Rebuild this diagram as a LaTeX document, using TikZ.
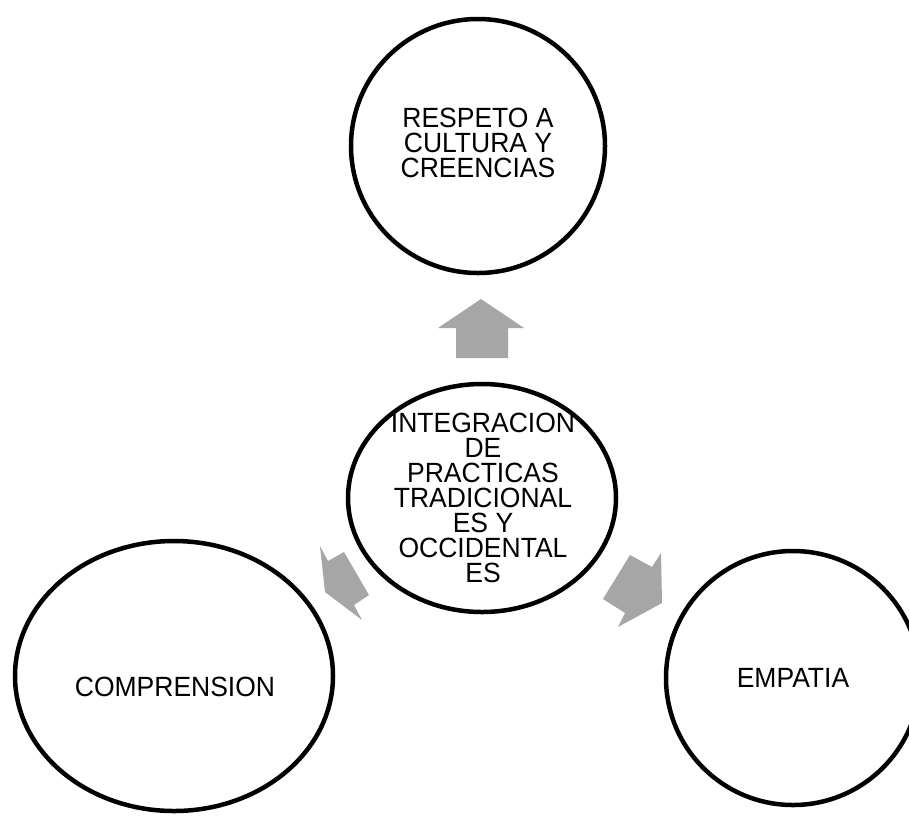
\documentclass[tikz,border=0pt]{standalone}
\usepackage{fontspec}
\setmainfont{Liberation Sans}
\usetikzlibrary{shapes.geometric}
\definecolor{arrowgray}{RGB}{166,166,166}
\newcommand{\tallline}[1]{\scalebox{1}[1.05]{#1}}
\begin{document}
\begin{tikzpicture}[x=1pt,y=-1pt,
  ring/.style={draw=black, line width=4.5pt, ellipse, inner sep=0pt},
  lbl/.style={font=\fontsize{26.5}{25.1}\selectfont, align=center, inner sep=0pt},
  blockarrow/.style={fill=arrowgray, draw=none}]
\fill[white] (0,0) rectangle (909,815);
\useasboundingbox (0,0) rectangle (909,815);
% circles / ellipses
\node[ring, minimum width=254pt, minimum height=254pt] (top) at (478,146) {};
\node[ring, minimum width=268pt, minimum height=228pt] (center) at (482,498) {};
\node[ring, minimum width=318pt, minimum height=270pt] (left) at (174,676) {};
\node[ring, minimum width=254pt, minimum height=254pt] (right) at (793,678) {};
% labels
\node[lbl] (toptext) at (478,143) {\tallline{RESPETO A}\\\tallline{CULTURA Y}\\\tallline{CREENCIAS}};
\node[lbl] (ctext) at (483,498) {\tallline{INTEGRACION}\\\tallline{DE}\\\tallline{PRACTICAS}\\\tallline{TRADICIONAL}\\\tallline{ES Y}\\\tallline{OCCIDENTAL}\\\tallline{ES}};
\node[lbl] (ltext) at (175,687) {\tallline{COMPRENSION}};
\node[lbl] (rtext) at (793,678) {\tallline{EMPATIA}};
% block arrows
\fill[blockarrow] (481,299) -- (524,328) -- (508,328) -- (508,358) -- (456,358) -- (456,328) -- (438,328) -- cycle;
\fill[blockarrow] (320,546) -- (328,561) -- (344,552) -- (369,595) -- (354,605) -- (362,620) -- (325,592) -- cycle;
\fill[blockarrow] (630,555) -- (652,567) -- (661,553) -- (662,603) -- (618,627) -- (625,613) -- (603,599) -- cycle;
\end{tikzpicture}
\end{document}
